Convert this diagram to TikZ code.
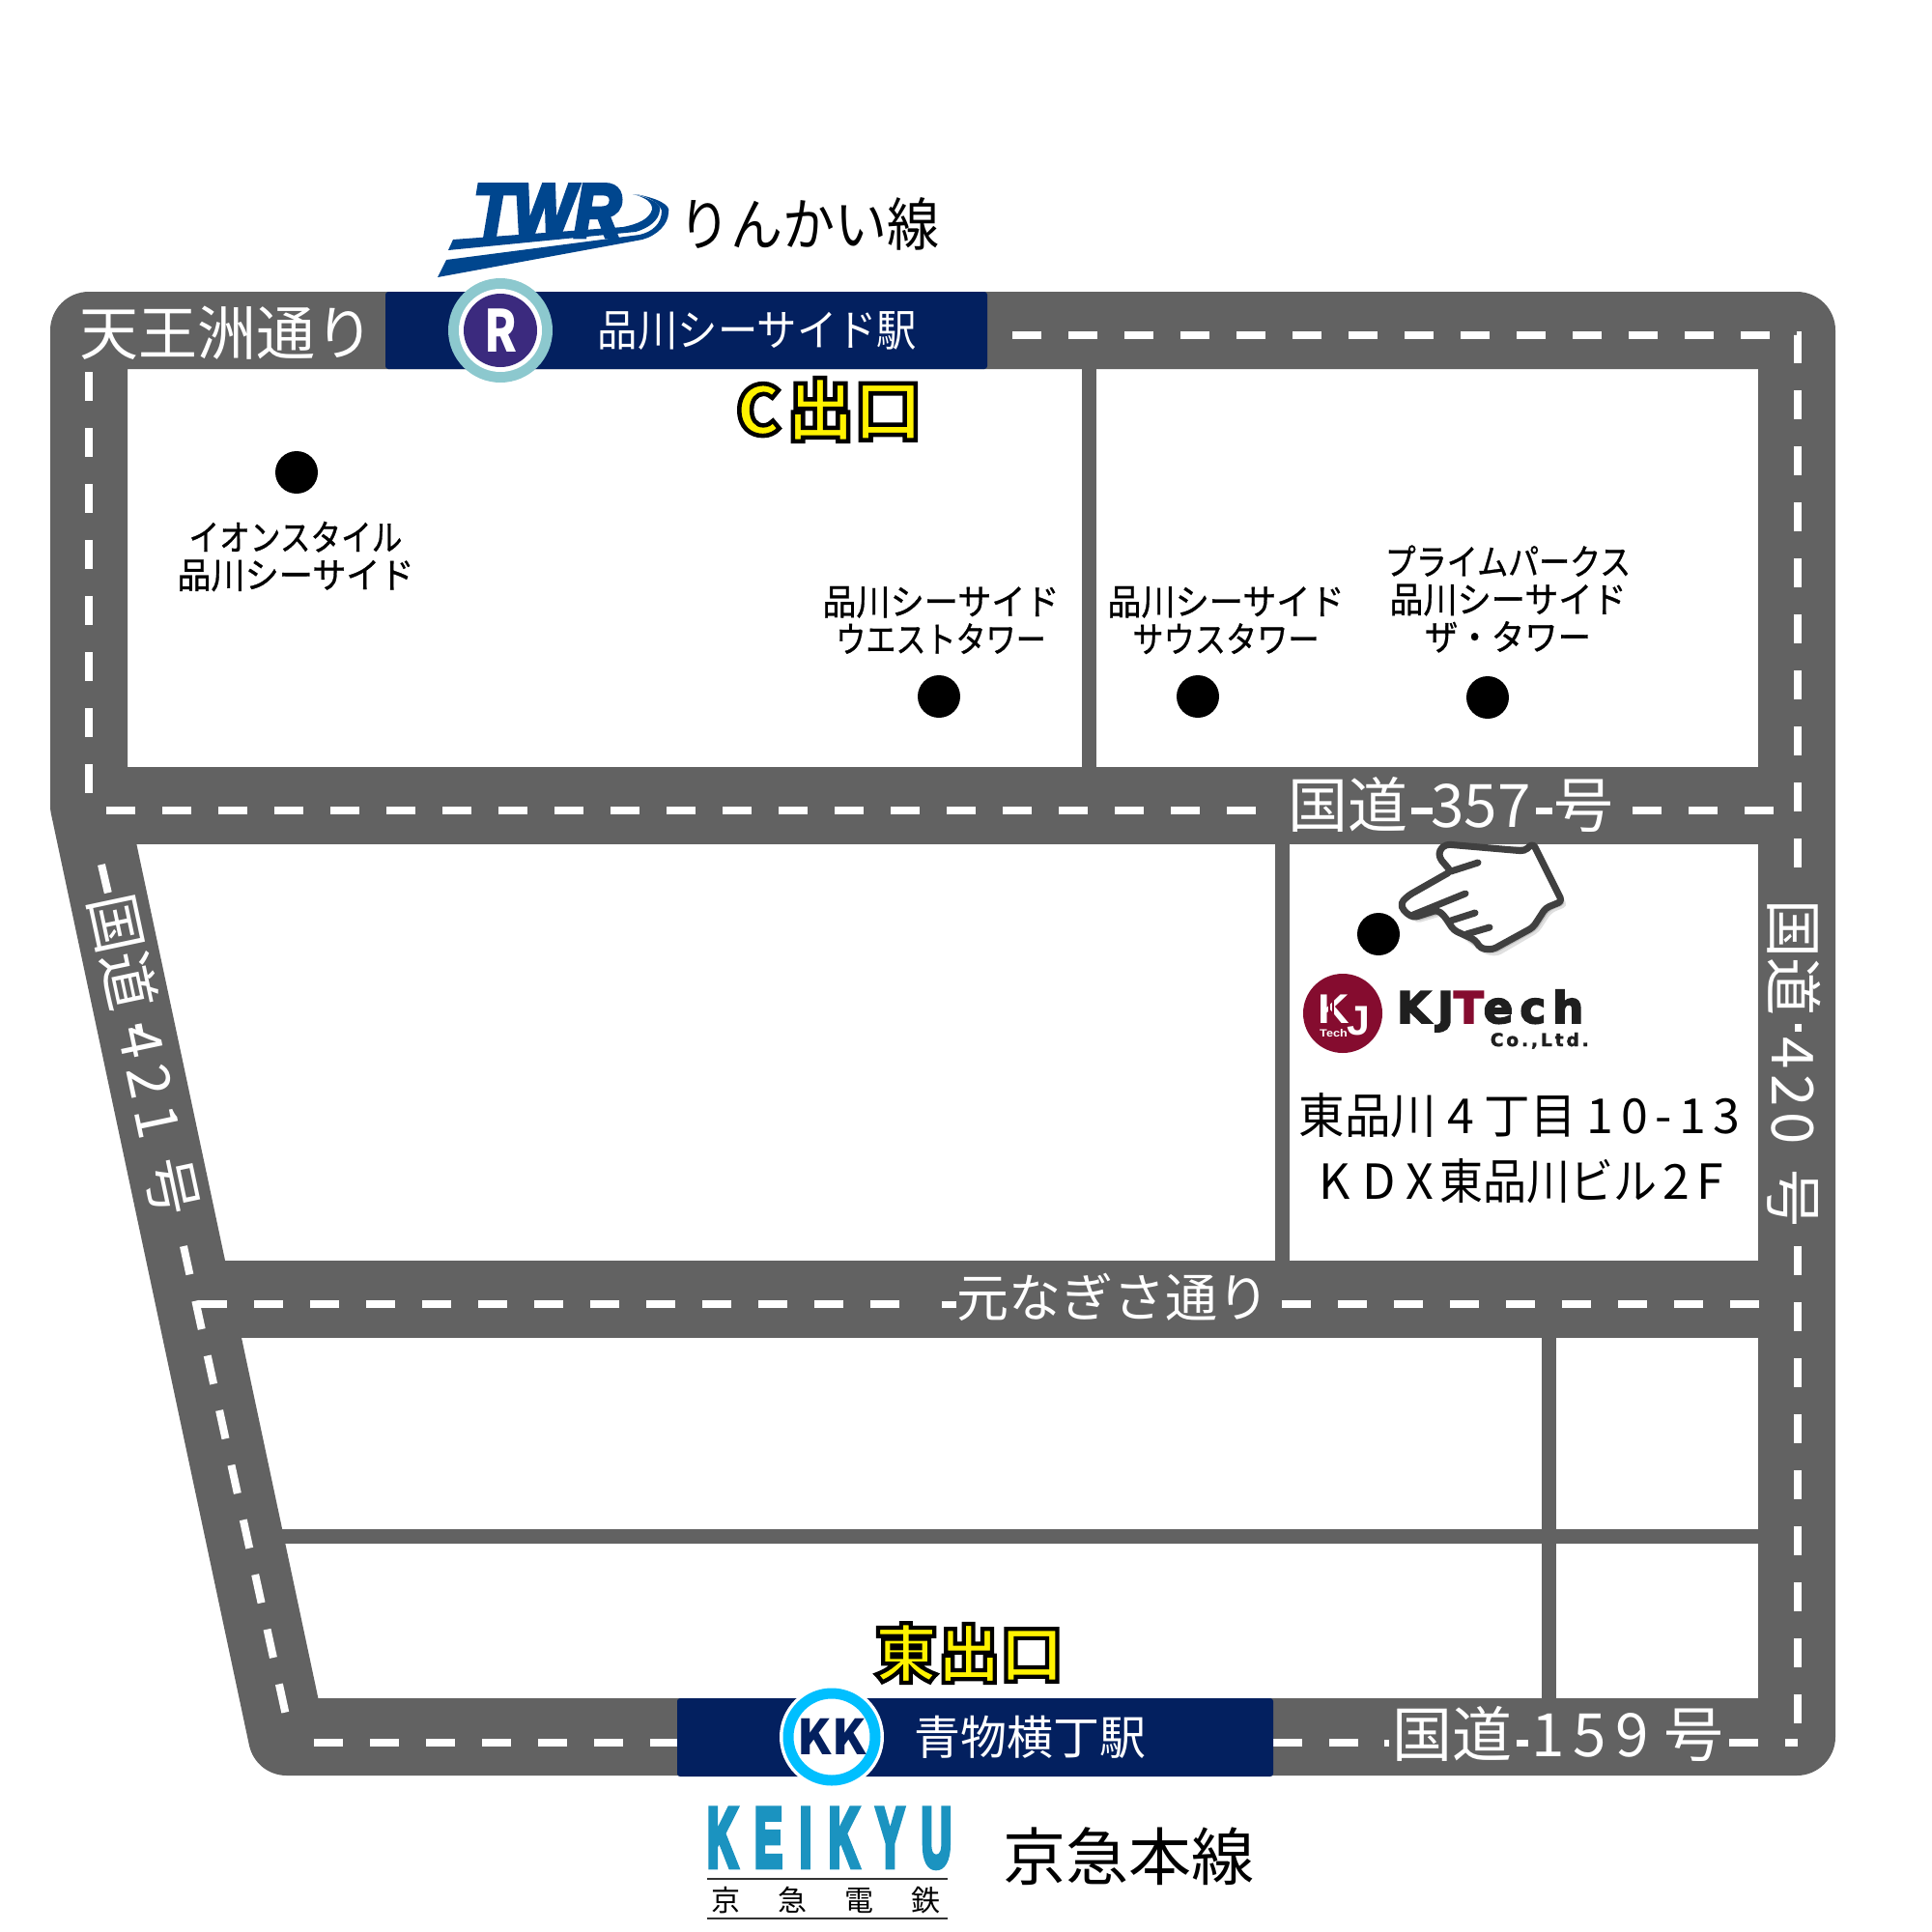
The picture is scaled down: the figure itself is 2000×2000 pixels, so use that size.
\documentclass[tikz,border=0pt]{standalone}
\usepackage{fontspec}
\usepackage{graphicx}
\setmainfont{Noto Sans CJK JP}
\newfontfamily\outlfont[BoldFeatures={FakeBold=6.5}]{Noto Sans CJK JP}
\newfontfamily\lblfont[FakeBold=0.8]{Noto Sans CJK JP}
\newfontfamily\libfont{Liberation Sans}
\newfontfamily\twrfont[BoldItalicFeatures={FakeBold=6}]{Liberation Sans}
\newfontfamily\libwfont[LetterSpace=42,BoldFeatures={FakeBold=8}]{Liberation Sans}
\newfontfamily\djfont[LetterSpace=16,BoldFeatures={FakeBold=4}]{DejaVu Sans}
\newfontfamily\djwfont[LetterSpace=16,BoldFeatures={FakeBold=2}]{DejaVu Sans}
\newfontfamily\jpwfont[LetterSpace=15]{Noto Sans CJK JP}
\newfontfamily\jpxfont[LetterSpace=24]{Noto Sans CJK JP}
\newfontfamily\jpsfont[LetterSpace=10]{Noto Sans CJK JP}
\newcommand{\fsz}[1]{\fontsize{#1}{#1}\selectfont}
\newcommand{\sq}[2]{\scalebox{#1}[1]{#2}}
\definecolor{road}{HTML}{626262}
\definecolor{navy}{HTML}{03205F}
\definecolor{teal}{HTML}{8CC8CE}
\definecolor{purp}{HTML}{3B2A7E}
\definecolor{sky}{HTML}{00BFFF}
\definecolor{twr}{HTML}{00468E}
\definecolor{kei}{HTML}{1B93C0}
\definecolor{kj}{HTML}{850C2F}
\definecolor{handc}{HTML}{404040}
\tikzset{
  mainroad/.style={draw=road,line width=80pt,line join=round},
  thinroad/.style={draw=road,line width=15pt},
  dashline/.style={draw=white,line width=8pt,dash pattern=on 30pt off 28pt},
  remnant/.style={draw=white,line width=7pt},
  roadlabel/.style={text=white,inner sep=0pt},
  blacklabel/.style={text=black,inner sep=0pt,align=center},
  bar/.style={fill=navy,rounded corners=3pt},
  dot/.style={fill=black,circle,minimum size=44pt,inner sep=0pt},
  handline/.style={draw=handc,line width=7pt,line cap=round,line join=round},
  exitlabel/.style={inner sep=0pt},
  placelabel/.style={blacklabel,font=\lblfont\fontsize{37}{39}\selectfont}
}
\newcommand{\exitstyle}[2]{{\color{yellow}\special{pdf:code 0 0 0 RG}\outlfont\bfseries\fsz{#1}#2}}
\begin{document}
\begin{tikzpicture}[x=1pt,y=-1pt]
\useasboundingbox (0,0) rectangle (2000,2000);
\fill[white] (0,0) rectangle (2000,2000);
% thin roads
\draw[thinroad] (1127,382) -- (1127,794);
\draw[thinroad] (1327.5,874) -- (1327.5,1305);
\draw[thinroad] (1603.5,1385) -- (1603.5,1758);
\draw[thinroad] (252,1590) -- (1820,1590);
% main roads
\draw[mainroad] (1860,342) -- (92,342) -- (92,834) -- (297,1798) -- (1860,1798) -- cycle;
\draw[mainroad] (92,834) -- (1860,834);
\draw[mainroad] (200,1345) -- (1860,1345);
% centre lines
\draw[dashline] (92,385) -- (92,825);
\draw[dashline] (1048,347) -- (1861,347) -- (1861,925);
\draw[dashline] (1861,1290) -- (1861,1804);
\draw[dashline] (110,839) -- (1315,839);
\draw[dashline] (1690,839) -- (1845,839);
\draw[dashline] (205,1350) -- (950,1350);
\draw[dashline] (1327,1350) -- (1845,1350);
\draw[dashline] (325,1804) -- (701,1804);
\draw[dashline] (1318,1804) -- (1412,1804);
\draw[dashline] (1790,1804) -- (1861,1804);
\draw[dashline] (105,895) -- (112,925);
\draw[dashline] (190,1290) -- (298,1785);
% remnants of the centre lines between label characters
\draw[remnant] (1461,839) -- (1483,839);
\draw[remnant] (1590,839) -- (1607,839);
\draw[remnant] (975,1350) -- (990,1350);
\draw[remnant] (1433,1804) -- (1438,1804);
\draw[remnant] (1570,1804) -- (1582,1804);
\draw[remnant] (1861,1060) -- (1861,1068);
\draw[remnant] (143,1060) -- (145,1070);
% road labels
\node[roadlabel] (tenno) at (235,345) {\fsz{61}天王洲通り};
\node[roadlabel] (r357) at (1502,833) {\fsz{62}国道\hspace{24pt}357\hspace{24pt}号};
\node[roadlabel,rotate=-90] (r420) at (1857,1101) {\fsz{60}国道\hspace{22pt}{\jpsfont 420}\hspace{26pt}号};
\node[roadlabel,rotate=-78] (r421) at (150,1092) {\fsz{60}国道\hspace{18pt}{\jpwfont 421}\hspace{22pt}号};
\node[roadlabel] (moto) at (1152,1343) {\fsz{54}元なぎさ通り};
\node[roadlabel] (r159) at (1613,1795) {\fsz{62}国道\hspace{20pt}{\jpwfont 159}\hspace{16pt}号};
% stations
\node[bar,minimum width=623pt,minimum height=80pt,inner sep=0pt] (barS) at (710.5,342) {};
\node[fill=teal,circle,minimum size=108pt,inner sep=0pt] (rring) at (518,342) {};
\node[fill=white,circle,minimum size=86pt,inner sep=0pt] (rwhite) at (rring) {};
\node[fill=purp,circle,minimum size=76pt,inner sep=0pt,text=white,font=\bfseries] (rin) at (rring) {\fsz{60}\sq{.8}{R}};
\node[text=white,inner sep=0pt] (sname) at (784,342) {\fsz{45}\sq{.92}{品川シーサイド駅}};
\node[bar,minimum width=617pt,minimum height=81pt,inner sep=0pt] (barA) at (1009.5,1798.5) {};
\node[fill=white,circle,minimum size=108pt,inner sep=0pt] (kwhite) at (861,1798) {};
\node[fill=white,draw=sky,line width=11pt,circle,minimum size=90pt,inner sep=0pt] (kring) at (kwhite) {};
\node[text=navy,inner sep=0pt,font=\bfseries] (ktxt) at (kwhite) {\fsz{50}KK};
\node[text=white,inner sep=0pt] (aname) at (1066,1798) {\fsz{48}青物横丁駅};
% exits
\node[exitlabel] (cexit) at (858,424) {\exitstyle{70}{C\hspace{6pt}出口}};
\node[exitlabel] (eexit) at (1003,1711) {\exitstyle{65}{東出口}};
% TWR logo
\fill[twr] (464,259) -- (469,248) -- (645,235) .. controls (660,232) and (672,227) .. (675,217)
  .. controls (676,210) and (668,204) .. (655,201)
  .. controls (675,205) and (685,212) .. (683,218)
  .. controls (682,228) and (672,236) .. (658,240) -- cycle;
\fill[twr] (453,287) -- (462,269) -- (662,243) .. controls (675,240) and (685,232) .. (685,218)
  .. controls (682,210) and (672,204) .. (658,201)
  .. controls (680,205) and (695,212) .. (692,220)
  .. controls (692,232) and (680,244) .. (665,248) -- cycle;
\node[text=twr,inner sep=0pt,anchor=base west] (twrtxt) at (490,245) {\twrfont\bfseries\itshape\fsz{78}\sq{.86}{TWR}};
\node[blacklabel] (rinkai) at (837,232) {\fsz{54}\scalebox{1}[1.1]{りんかい線}};
% landmarks
\node[dot] (d1) at (307,489) {};
\node[dot] (d2) at (972,721) {};
\node[dot] (d3) at (1240,721) {};
\node[dot] (d4) at (1540,722) {};
\node[dot] (d5) at (1427,967) {};
\node[placelabel] (l1) at (306,576) {\sq{.855}{イオンスタイル}\\\sq{.95}{品川シーサイド}};
\node[placelabel] (l2) at (974,642) {\sq{.95}{品川シーサイド}\\\sq{.84}{ウエストタワー}};
\node[placelabel] (l3) at (1269,642) {\sq{.95}{品川シーサイド}\\\sq{.87}{サウスタワー}};
\node[placelabel] (l4) at (1561,620) {\sq{.865}{プライムパークス}\\\sq{.95}{品川シーサイド}\\\sq{.93}{ザ・タワー}};
% hand
\fill[black,opacity=.12,rounded corners=5pt] (1590,876) -- (1623,938) -- (1606,945) -- (1593,965) -- (1550,990) -- (1537,988) -- (1510,968) -- (1493,948) -- (1466,956) -- (1452,940) -- (1500,905) -- (1500,880) -- cycle;
\fill[black,opacity=.15,rounded corners=5pt] (1590,875) -- (1621,936) -- (1604,943) -- (1591,963) -- (1548,987) -- (1536,986) -- (1509,966) -- (1492,946) -- (1466,954) -- (1454,939) -- (1500,905) -- (1500,878) -- cycle;
\draw[handline,fill=white,rounded corners=4pt] (1587,873) -- (1617,933) -- (1600,940) -- (1587,960) -- (1545,983) -- (1533,982) -- (1527,973) -- (1505,963) -- (1495,948) -- (1488,942) -- (1463,950) -- (1453,943) -- (1450,935) -- (1458,927) -- (1502,902) -- (1490,888) -- (1490,880) -- (1497,874) -- (1578,881) -- cycle;
\draw[handline] (1502,902) -- (1530,893);
\draw[handline] (1463,947) -- (1517,925);
\draw[handline] (1502,953) -- (1527,945);
\draw[handline] (1518,967) -- (1542,960);
% KJTech logo
\node[fill=kj,circle,minimum size=82pt,inner sep=0pt] (kjc) at (1390,1049) {};
\node[text=white,inner sep=0pt,anchor=base west] (kjk) at (1364,1059) {\libfont\bfseries\fsz{43}\sq{1.05}{K}};
\draw[kj,line width=1.2pt] (1376,1029) -- (1376,1058);
\draw[kj,line width=1.2pt] (1380,1029) -- (1380,1058);
\node[text=white,inner sep=0pt,anchor=base east] (kjj) at (1419,1071) {\libfont\bfseries\fsz{43}J};
\node[text=white,inner sep=0pt,anchor=base west] (kjt) at (1366,1073) {\libfont\bfseries\fsz{11}\sq{1.15}{Tech}};
\node[inner sep=0pt,anchor=base west] (kjn) at (1446,1059) {\djfont\bfseries\fsz{45}\textcolor{black!88}{KJ}\textcolor{kj}{T}\textcolor{black!88}{ech}};
\node[inner sep=0pt,anchor=base east,text=black!88] (kjl) at (1645,1083) {\djwfont\bfseries\fsz{18.5}Co.,Ltd.};
% address
\node[blacklabel] (a1) at (1573,1155) {\fsz{50}\sq{.95}{東品川}\hspace{11pt}{\jpwfont 4}\hspace{11pt}\sq{.95}{丁目}\hspace{11pt}{\jpwfont 10-13}};
\node[blacklabel] (a2) at (1575,1223) {\fsz{50}{\jpxfont KDX}\hspace{6pt}\sq{.9}{東品川ビル}\hspace{6pt}{\jpwfont 2F}};
% bottom
\node[inner sep=0pt,anchor=base west,text=kei] (keikyu) at (732,1932) {\libwfont\bfseries\fsz{86}\sq{.5}{KEIKYU}};
\coordinate (ka) at (732,1945);
\coordinate (kb) at (981,1945);
\coordinate (kc) at (732,1986);
\coordinate (kd) at (981,1986);
\draw[black!80,line width=2pt] (ka) -- (kb);
\draw[black!80,line width=2pt] (kc) -- (kd);
\node[blacklabel] (kden) at (855,1967) {\fsz{30}京\hspace{38.7pt}急\hspace{38.7pt}電\hspace{38.7pt}鉄};
\node[blacklabel] (keihin) at (1168,1922) {\fsz{65}京急本線};
\end{tikzpicture}
\end{document}
